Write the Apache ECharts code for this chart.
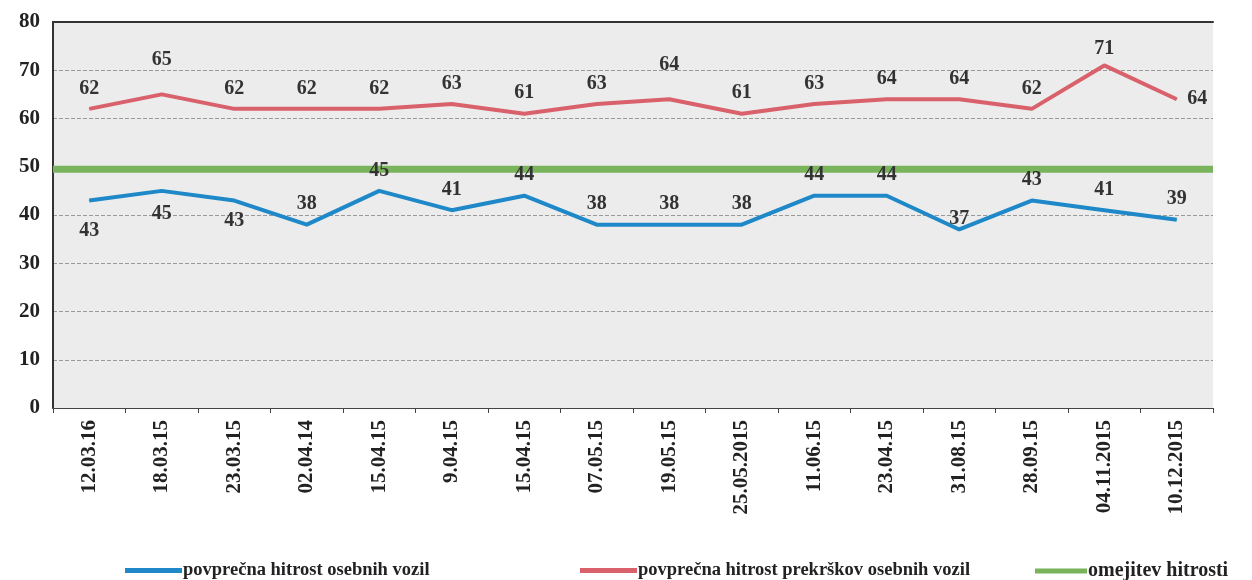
<!DOCTYPE html>
<html>
<head>
<meta charset="utf-8">
<script src="https://cdn.jsdelivr.net/npm/echarts@6/dist/echarts.min.js"></script>
<style>
  html, body { margin: 0; padding: 0; background: #fff; }
  #chart { width: 1252px; height: 580px; }
</style>
</head>
<body>
<div id="chart"></div>
<script>
var dates = ['12.03.16', '18.03.15', '23.03.15', '02.04.14', '15.04.15', '9.04.15', '15.04.15', '07.05.15',
  '19.05.15', '25.05.2015', '11.06.15', '23.04.15', '31.08.15', '28.09.15', '04.11.2015', '10.12.2015'];
var avgSpeed = [43, 45, 43, 38, 45, 41, 44, 38, 38, 38, 44, 44, 37, 43, 41, 39];
var avgOffence = [62, 65, 62, 62, 62, 63, 61, 63, 64, 61, 63, 64, 64, 62, 71, 64];
var limit = [49.5, 49.5, 49.5, 49.5, 49.5, 49.5, 49.5, 49.5, 49.5, 49.5, 49.5, 49.5, 49.5, 49.5, 49.5, 49.5];

var serif = '"Liberation Serif", "DejaVu Serif", serif';

var chartDom = document.getElementById('chart');
var myChart = echarts.init(chartDom);

function lbl(pos, dist) {
  return { show: true, position: pos, distance: dist, fontFamily: serif, fontWeight: 'bold', fontSize: 20, color: '#333' };
}

var legendText = { fontFamily: serif, fontWeight: 'bold', fontSize: 18.5, color: '#222', padding: [0, 0, 0, -4] };

var option = {
  animation: false,
  grid: {
    left: 53, right: 39, top: 22, bottom: 172,
    show: true,
    backgroundColor: '#ececec',
    borderWidth: 0
  },
  legend: [
    { left: 120, top: 556, itemWidth: 57, itemHeight: 5, icon: 'rect',
      data: ['povprečna hitrost osebnih vozil'], textStyle: legendText },
    { left: 575, top: 556, itemWidth: 57, itemHeight: 5, icon: 'rect',
      data: ['povprečna hitrost prekrškov osebnih vozil'], textStyle: legendText },
    { left: 1030, top: 556, itemWidth: 52, itemHeight: 5, icon: 'rect',
      data: ['omejitev hitrosti'], textStyle: Object.assign({}, legendText, { fontSize: 20 }) }
  ],
  xAxis: [
    {
      type: 'category',
      data: dates,
      boundaryGap: true,
      axisLine: { lineStyle: { color: '#444', width: 1 } },
      axisTick: { show: true, lineStyle: { color: '#444' } },
      axisLabel: {
        rotate: 90,
        interval: 0,
        margin: 12,
        fontFamily: serif,
        fontWeight: 'bold',
        fontSize: 21,
        color: '#222'
      }
    },
    {
      type: 'category',
      data: dates,
      boundaryGap: false,
      position: 'top',
      axisLine: { lineStyle: { color: '#333', width: 2 } },
      axisTick: { show: false },
      axisLabel: { show: false }
    }
  ],
  yAxis: {
    type: 'value',
    min: 0, max: 80, interval: 10,
    axisLine: { show: true, lineStyle: { color: '#333', width: 2 } },
    axisTick: { show: false },
    axisLabel: { fontFamily: serif, fontWeight: 'bold', fontSize: 21, color: '#222', margin: 13 },
    splitLine: { lineStyle: { color: '#999', type: 'dashed', width: 1 } }
  },
  series: [
    {
      name: 'omejitev hitrosti',
      type: 'line',
      xAxisIndex: 1,
      data: limit,
      color: '#79b45c',
      lineStyle: { width: 7 },
      symbol: 'none',
      z: 1
    },
    {
      name: 'povprečna hitrost osebnih vozil',
      type: 'line',
      data: avgSpeed.map(function (v, i) {
        var l = lbl('top', 10);
        if (i === 0) l = lbl('bottom', 20);
        if (i === 1) l = lbl('bottom', 12);
        if (i === 2) l = lbl('bottom', 10);
        if (i === 12) l = lbl('top', 0);
        return { value: v, label: l };
      }),
      color: '#1e88c8',
      lineStyle: { width: 4 },
      symbol: 'circle',
      symbolSize: 1,
      z: 3
    },
    {
      name: 'povprečna hitrost prekrškov osebnih vozil',
      type: 'line',
      data: avgOffence.map(function (v, i) {
        var l = lbl('top', 10);
        if (i === 1 || i === 8) l = lbl('top', 24);
        if (i === 14) l = lbl('top', 6);
        if (i === avgOffence.length - 1) l = lbl('right', 10);
        return { value: v, label: l };
      }),
      color: '#d9616c',
      lineStyle: { width: 4 },
      symbol: 'circle',
      symbolSize: 1,
      z: 3
    }
  ]
};

myChart.setOption(option);
</script>
</body>
</html>
